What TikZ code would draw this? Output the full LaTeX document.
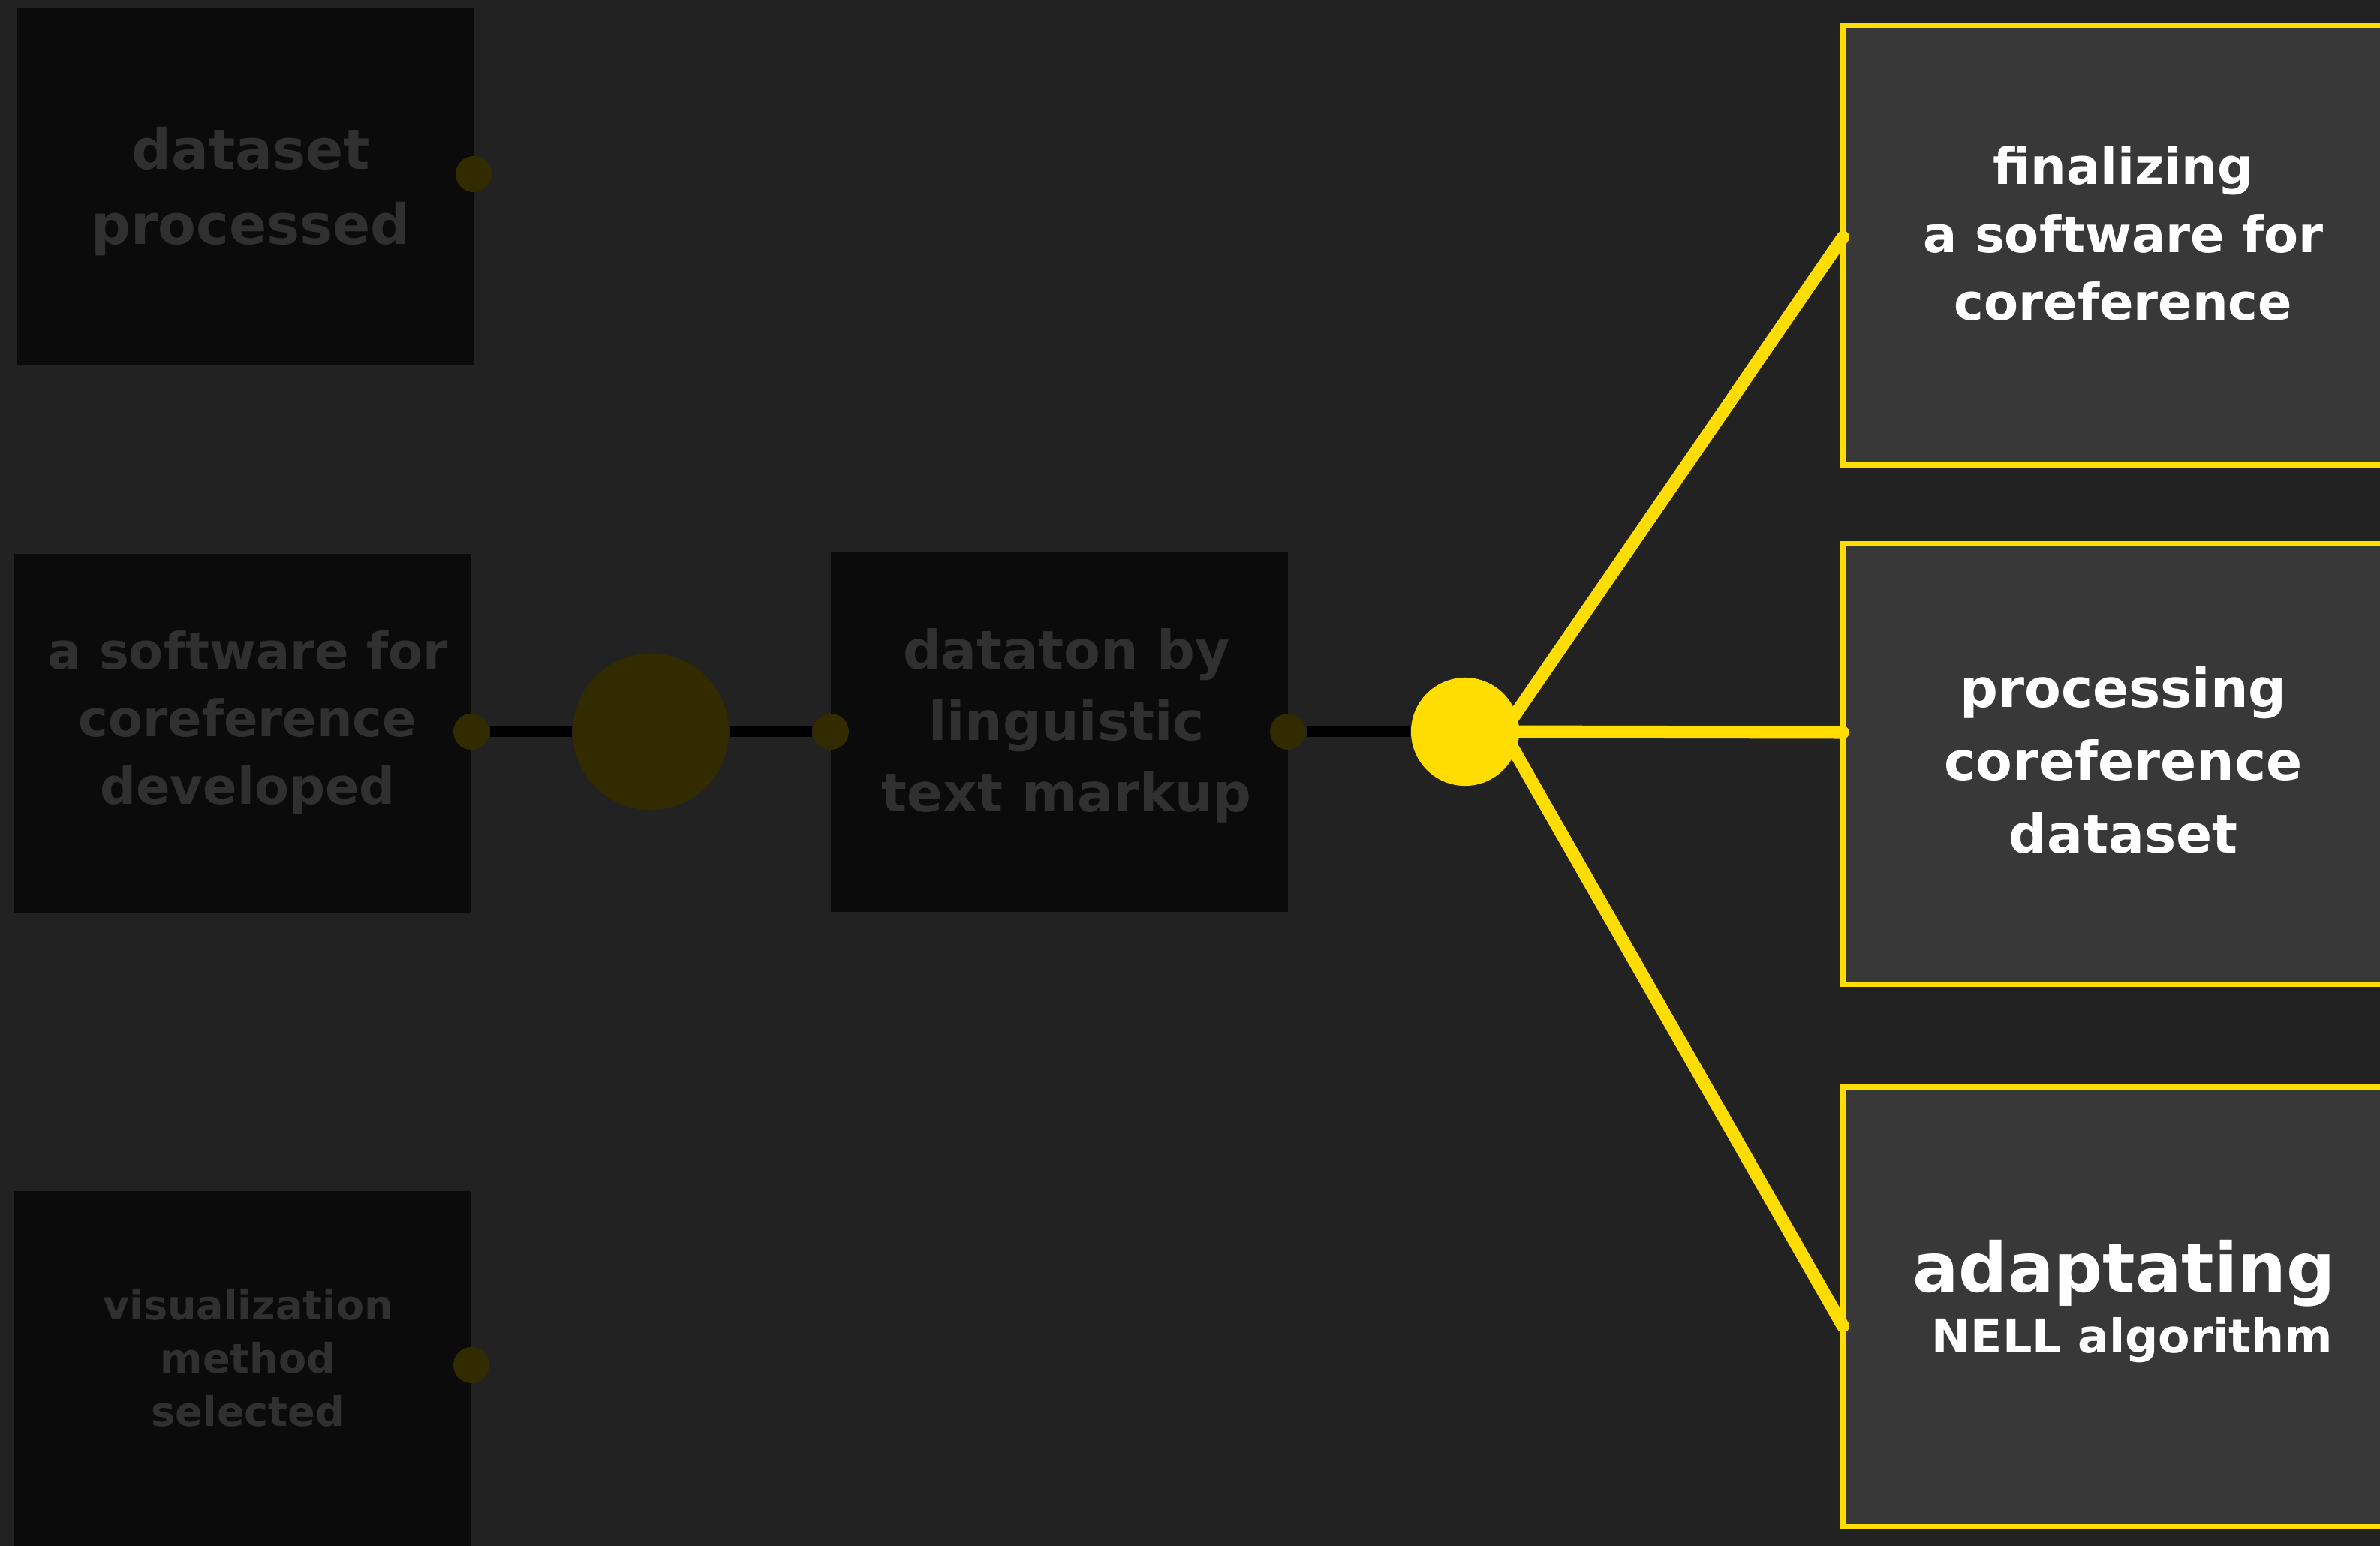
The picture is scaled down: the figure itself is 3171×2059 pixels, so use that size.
\documentclass[tikz,border=0pt]{standalone}
\usepackage{fontspec}
\setmainfont{DejaVu Sans}
\usepackage{tikz}
\definecolor{bgdark}{HTML}{222222}
\definecolor{boxdark}{HTML}{0B0B0B}
\definecolor{dimtext}{HTML}{303030}
\definecolor{dimdot}{HTML}{332B00}
\definecolor{goldline}{HTML}{FFDD00}
\definecolor{boxgrey}{HTML}{383838}

\begin{document}
\begin{tikzpicture}[x=0.01cm,y=-0.01cm,
        oldbox/.style={rectangle,fill=boxdark,inner sep=0pt,minimum width=6.09cm,minimum height=4.79cm},
        oldtext/.style={text=dimtext,align=center,inner sep=0pt},
        newbox/.style={rectangle,fill=boxgrey,draw=goldline,line width=0.07cm,inner sep=0pt,minimum width=7.445cm,minimum height=5.86cm},
        newtext/.style={text=white,align=center,inner sep=0pt},
        portdot/.style={circle,fill=dimdot,inner sep=0pt,minimum size=0.48cm},
        darkwire/.style={black,line width=0.14cm},
        goldwire/.style={goldline,line width=0.17cm,line cap=round}
    ]
    \useasboundingbox (0,0) rectangle (3171,2059);
    \fill[bgdark] (-20,-20) rectangle (3191,2079);
    % finished steps
    \node[oldbox,minimum height=4.77cm] (processed) at (326.5,248.5) {};
    \node[oldbox] (developed) at (323.5,977.5) {};
    \node[oldbox,minimum height=4.80cm] (datathon) at (1411.5,975) {};
    \node[oldbox,minimum height=5.0cm] (selected) at (323.5,1837) {};
    \node[oldtext,font=\bfseries\fontsize{21.05}{28.45}\selectfont] (processedtxt) at (334,255.5) {dataset\\processed};
    \node[oldtext,font=\bfseries\fontsize{19.06}{25.6}\selectfont] (developedtxt) at (330,963) {a software for\\coreference\\developed};
    \node[oldtext,font=\bfseries\fontsize{20.2}{27}\selectfont] (datathontxt) at (1421,967) {dataton by\\linguistic\\text markup};
    \node[oldtext,font=\bfseries\fontsize{15.4}{20.2}\selectfont] (selectedtxt) at (330.5,1809) {visualization\\method\\selected};
    % next steps
    \node[newbox] (finalizing) at (2827.75,326.75) {};
    \node[newbox] (processing) at (2827.75,1018) {};
    \node[newbox,minimum height=5.85cm] (adaptating) at (2827.75,1741.5) {};
    \node[newtext,font=\bfseries\fontsize{19.06}{25.6}\selectfont] (finalizingtxt) at (2829,311) {finalizing\\a software for\\coreference};
    \node[newtext,font=\bfseries\fontsize{20.2}{27.6}\selectfont] (processingtxt) at (2829,1013) {processing\\coreference\\dataset};
    \node[newtext,font=\bfseries\fontsize{25.9}{23}\selectfont] (adaptatingtxt) at (2830,1734) {adaptating\\\hspace*{0.22cm}{\fontsize{17.6}{23}\selectfont NELL algorithm}};
    \coordinate (hub) at (2003,975);
    \coordinate (finport) at (2455.5,316);
    \coordinate (procport) at (2455.5,976);
    \coordinate (adaptport) at (2455.5,1767);
    \draw[goldwire] (hub) -- (finport);
    \draw[goldwire] (hub) -- (procport);
    \draw[goldwire] (hub) -- (adaptport);
    % dots and wires
    \node[portdot] (dot1) at (631,232) {};
    \node[portdot] (dot2) at (628,975) {};
    \node[portdot] (dot3) at (1107,975) {};
    \node[portdot] (dot4) at (1716,975) {};
    \node[portdot] (dot5) at (628,1819) {};
    \node[circle,fill=dimdot,inner sep=0pt,minimum size=2.08cm] (bigdot) at (867,975) {};
    \node[circle,fill=goldline,inner sep=0pt,minimum size=1.44cm] (golddot) at (1952,975) {};
    \draw[darkwire] (dot2) -- (bigdot);
    \draw[darkwire] (bigdot) -- (dot3);
    \draw[darkwire] (dot4) -- (golddot);
\end{tikzpicture}
\end{document}
